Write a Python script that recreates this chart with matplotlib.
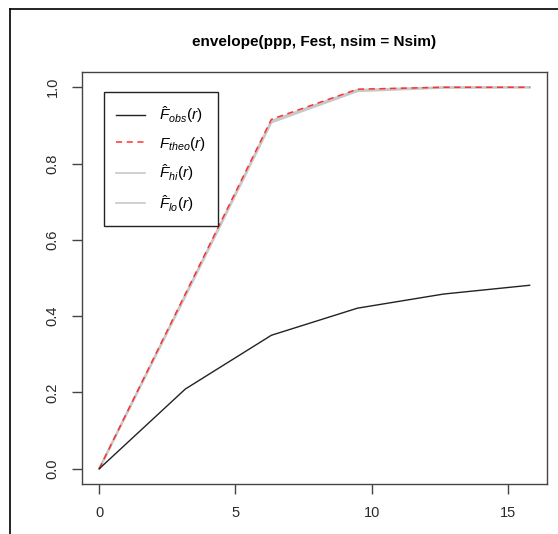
import numpy as np
import matplotlib
matplotlib.use('Agg')
import matplotlib.pyplot as plt
from matplotlib.lines import Line2D

plt.rcParams['font.family'] = ['Liberation Sans', 'DejaVu Sans']
plt.rcParams['mathtext.fontset'] = 'custom'
plt.rcParams['mathtext.it'] = 'Liberation Sans:italic'
plt.rcParams['mathtext.rm'] = 'Liberation Sans'

# Datos
r = [0.0, 3.16, 6.32, 9.48, 12.64, 15.8]
F_obs = [0.0, 0.209, 0.350, 0.421, 0.458, 0.481]
F_theo = [0.0, 0.458, 0.916, 0.995, 1.0, 1.0]
F_hi = [0.0, 0.455, 0.912, 0.993, 1.0, 1.0]
F_lo = [0.0, 0.452, 0.908, 0.990, 0.999, 1.0]

titulo = 'envelope(ppp, Fest, nsim = Nsim)'
etiquetas = [r'$\hat{F}_{obs}(r)$', r'$F_{theo}(r)$', r'$\hat{F}_{hi}(r)$', r'$\hat{F}_{lo}(r)$']

fig = plt.figure(figsize=(5.58, 5.34), dpi=100)
ax = fig.add_axes([0.147, 0.0936, 0.833, 0.7715])

ax.plot(r, F_hi, color='#c8c8c8', lw=1.6)
ax.plot(r, F_lo, color='#c8c8c8', lw=1.6)
ax.plot(r, F_theo, color='#ff3030', lw=1.1, ls=(0, (4, 3)))
ax.plot(r, F_obs, color='#222222', lw=1.0)

ax.set_xlim(-0.04 * 15.8, 1.04 * 15.8)
ax.set_ylim(-0.04, 1.04)
ax.set_xticks([0, 5, 10, 15])
ax.set_yticks([0.0, 0.2, 0.4, 0.6, 0.8, 1.0])
ax.set_yticklabels(['0.0', '0.2', '0.4', '0.6', '0.8', '1.0'], rotation=90, va='center')
ax.tick_params(length=7, width=1, color='#444444', labelsize=10.5, labelcolor='#2a2a2a', pad=9)
for s in ax.spines.values():
    s.set_color('#444444')
    s.set_linewidth(1.0)

ax.set_title(titulo, fontsize=11, fontweight='bold', pad=19)

handles = [Line2D([], [], color='#222222', lw=1.0),
           Line2D([], [], color='#ff3030', lw=1.1, ls=(0, (4, 3))),
           Line2D([], [], color='#c8c8c8', lw=1.2),
           Line2D([], [], color='#c8c8c8', lw=1.2)]
leg = ax.legend(handles, etiquetas, loc='upper left', bbox_to_anchor=(0.047, 0.951),
                borderaxespad=0, fancybox=False, edgecolor='#222222', fontsize=11,
                handlelength=1.9, handletextpad=0.9, labelspacing=0.62, borderpad=0.8,
                framealpha=1)
leg.get_frame().set_linewidth(1.0)

# marco de la captura
fig.add_artist(Line2D([10 / 558, 1], [1 - 9 / 534, 1 - 9 / 534], color='black', lw=1.2))
fig.add_artist(Line2D([10 / 558, 10 / 558], [0, 1 - 9 / 534], color='black', lw=1.2))

fig.savefig('out.png', dpi=100)
